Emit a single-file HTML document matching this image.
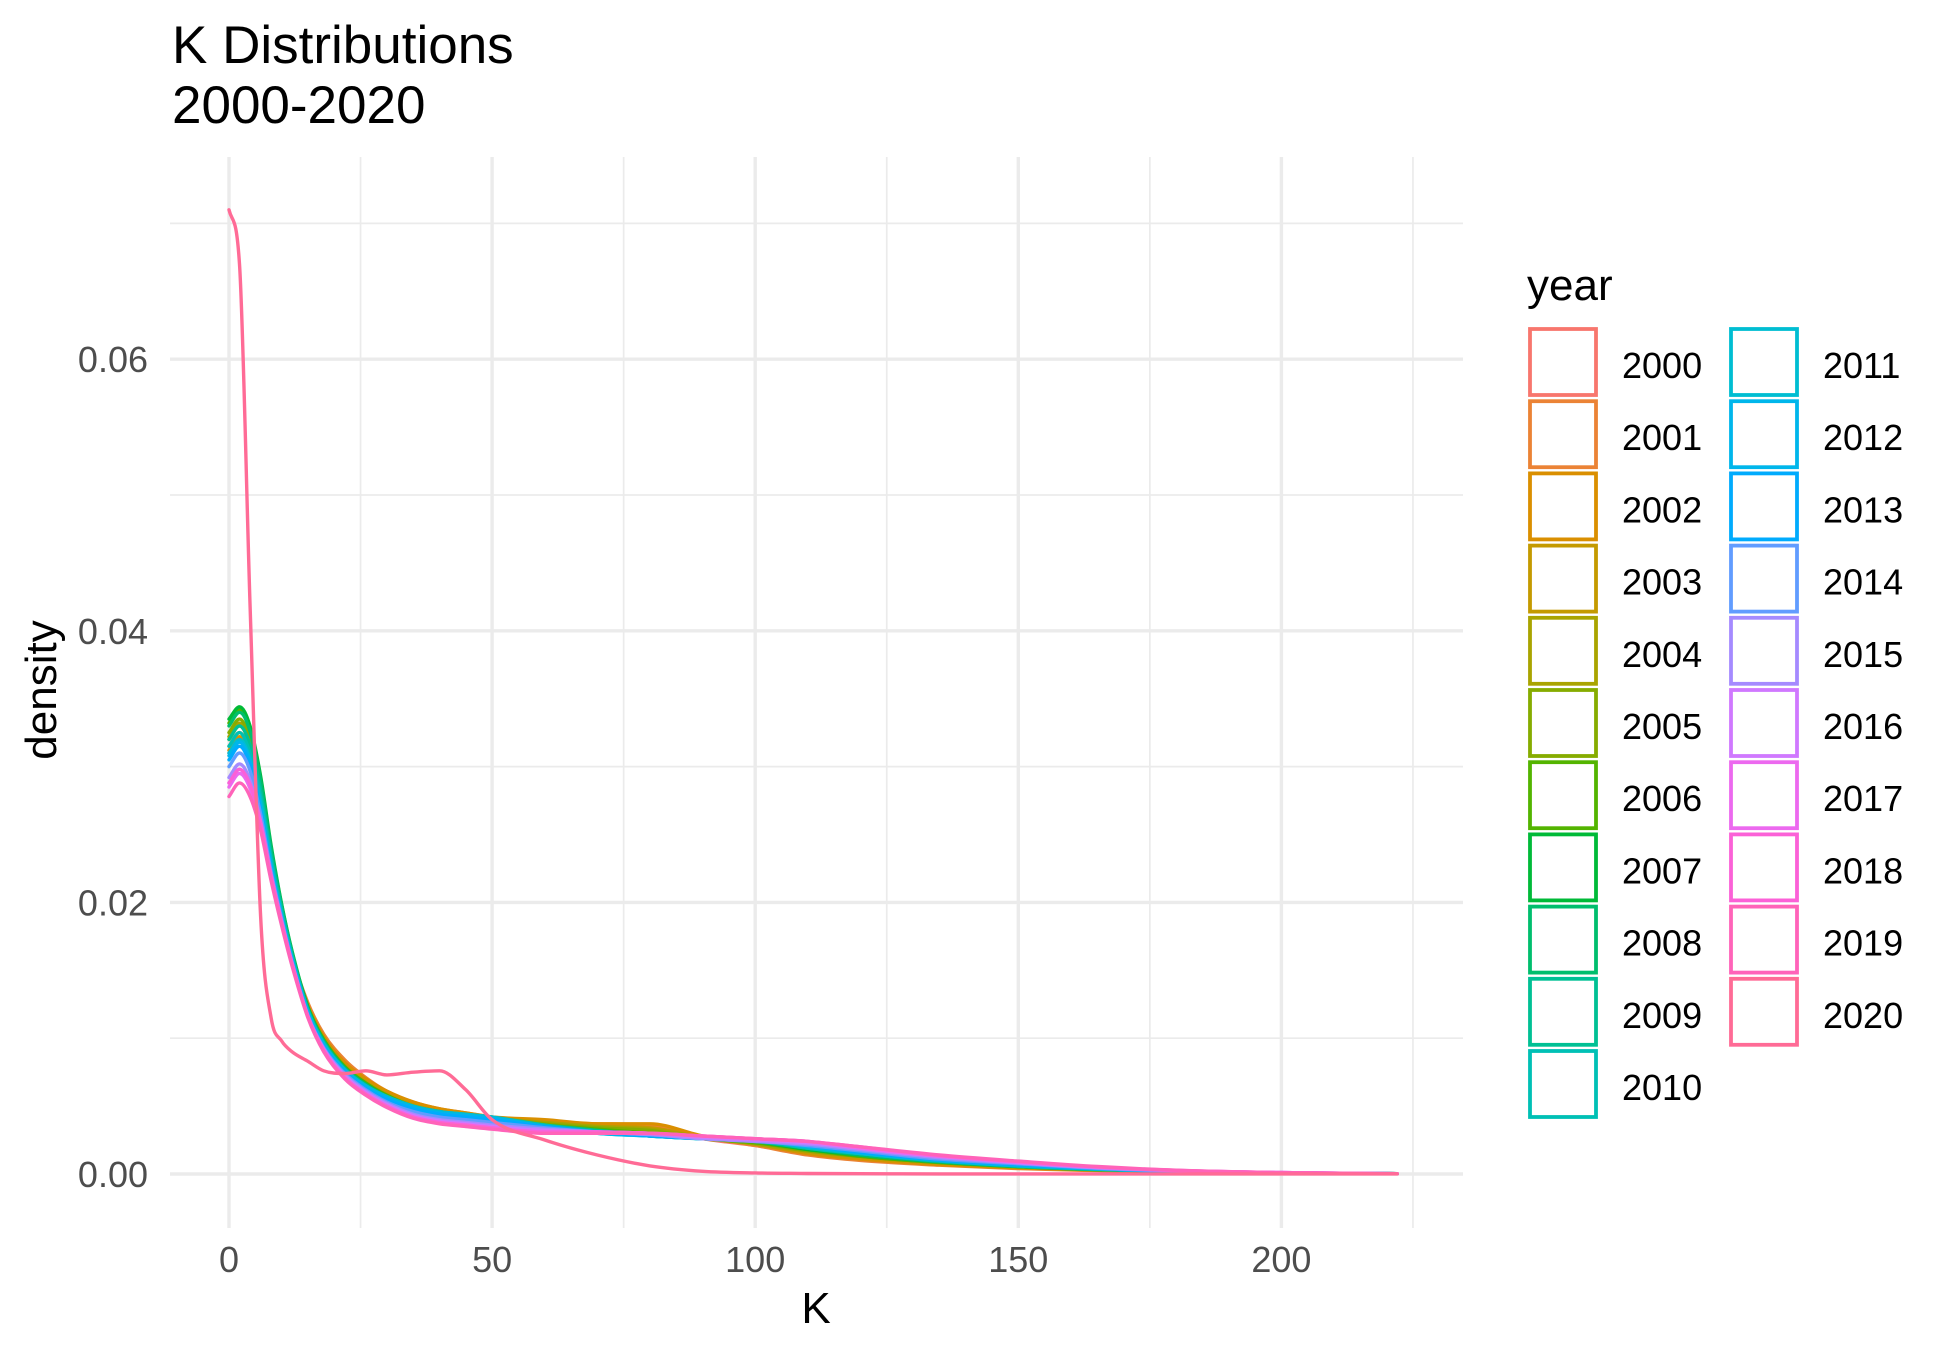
<!DOCTYPE html>
<html><head><meta charset="utf-8">
<style>
html,body{margin:0;padding:0;background:#fff;}
svg{display:block;font-family:"Liberation Sans",Arial,sans-serif;}
</style></head>
<body>
<svg id="chart" width="1953" height="1356" viewBox="0 0 1953 1356" xmlns="http://www.w3.org/2000/svg">
  <rect width="1953" height="1356" fill="#fff"/>
  <g id="grid"></g>
  <g id="series"></g>
  <g id="axes"></g>
  <text x="172" y="63" font-size="53" fill="#000">K Distributions</text>
  <text x="172" y="123" font-size="53" fill="#000">2000-2020</text>
  <text x="816" y="1323" font-size="44" fill="#000" text-anchor="middle">K</text>
  <text x="0" y="0" font-size="44" fill="#000" text-anchor="middle" transform="translate(56,690) rotate(-90)">density</text>
  <g id="legend">
    <text x="1527" y="300" font-size="44" fill="#000">year</text>
  </g>
</svg>
<script>
// ---- data ----
const years = [2000,2001,2002,2003,2004,2005,2006,2007,2008,2009,2010,2011,2012,2013,2014,2015,2016,2017,2018,2019,2020];
const kGrid = [0,2,4,6,8,10,12,15,18,22,26,30,35,40,45,50,60,70,80,90,100,110,120,135,150,165,180,200,222];
// density values in units of 1e-3
const d2000 = [31,32,30.5,27,22.5,18.8,15.7,12.2,10,8.1,6.9,6,5.2,4.7,4.4,4.1,3.8,3.6,3.4,2.6,2.1,1.5,1.1,0.7,0.45,0.3,0.18,0.08,0.02];
const d2001 = [31.5,32.5,31,27.5,23,19.2,16,12.6,10.3,8.4,7.1,6.1,5.3,4.8,4.5,4.2,3.9,3.7,3.6,2.7,2.1,1.4,1.0,0.65,0.4,0.25,0.15,0.07,0.02];
const d2002 = [31.2,32.2,30.8,27.2,22.8,19,15.9,12.4,10.1,8.2,7,6.1,5.3,4.8,4.5,4.2,4.0,3.7,3.7,2.8,2.2,1.5,1.1,0.7,0.45,0.28,0.16,0.07,0.02];
const d2003 = [32,33,31.5,27.8,23,19.2,16,12.3,10,8,6.8,5.9,5.1,4.6,4.3,4.1,3.8,3.5,3.4,2.7,2.2,1.6,1.2,0.8,0.5,0.3,0.18,0.08,0.02];
const d2004 = [32.2,33.2,31.6,28,23.2,19.3,16,12.2,9.9,7.9,6.7,5.8,5,4.6,4.3,4.1,3.8,3.5,3.3,2.7,2.2,1.7,1.3,0.85,0.5,0.3,0.18,0.08,0.02];
const d2005 = [32.5,33.5,32,28.3,23.4,19.4,16.1,12.2,9.9,7.9,6.7,5.8,5,4.6,4.3,4.1,3.7,3.4,3.2,2.6,2.3,1.7,1.3,0.85,0.55,0.32,0.2,0.08,0.02];
const d2006 = [33.2,34.2,32.8,29,24,19.8,16.3,12.3,9.9,7.9,6.7,5.8,5,4.6,4.3,4.1,3.6,3.3,3.0,2.6,2.3,1.8,1.3,0.85,0.55,0.32,0.2,0.08,0.02];
const d2007 = [33.5,34.4,33,29.3,24.2,19.9,16.4,12.3,9.8,7.8,6.6,5.7,4.9,4.5,4.2,4.0,3.5,3.2,2.9,2.6,2.4,1.8,1.4,0.9,0.55,0.33,0.2,0.08,0.02];
const d2008 = [33,34,32.6,29,24,19.8,16.3,12.2,9.8,7.8,6.6,5.7,4.9,4.5,4.2,4.0,3.5,3.2,2.9,2.6,2.4,1.9,1.4,0.9,0.55,0.33,0.2,0.08,0.02];
const d2009 = [32,33,31.6,28.3,23.5,19.5,16.1,12.1,9.7,7.7,6.5,5.6,4.9,4.5,4.3,4.1,3.6,3.2,2.8,2.6,2.4,1.9,1.5,0.95,0.6,0.35,0.2,0.08,0.02];
const d2010 = [31.5,32.5,31,27.8,23.2,19.3,16,12,9.6,7.7,6.5,5.7,5,4.6,4.4,4.2,3.6,3.1,2.8,2.6,2.5,1.9,1.5,0.95,0.6,0.35,0.2,0.08,0.02];
const d2011 = [31,32,30.6,27.4,22.9,19.1,15.9,12,9.6,7.7,6.5,5.7,5,4.6,4.4,4.2,3.5,3.0,2.8,2.6,2.5,2.0,1.5,1.0,0.6,0.35,0.2,0.08,0.02];
const d2012 = [30.8,31.8,30.4,27.1,22.7,19,15.8,11.9,9.5,7.6,6.4,5.6,4.9,4.5,4.3,4.1,3.5,3.0,2.8,2.6,2.5,2.0,1.6,1.0,0.65,0.38,0.2,0.08,0.02];
const d2013 = [30.5,31.5,30.1,26.8,22.5,18.9,15.7,11.8,9.4,7.5,6.3,5.5,4.8,4.4,4.2,4.0,3.5,3.1,2.8,2.6,2.5,2.1,1.6,1.05,0.7,0.4,0.22,0.09,0.02];
const d2014 = [30,31,29.7,26.5,22.3,18.8,15.6,11.7,9.3,7.4,6.2,5.3,4.6,4.2,4.0,3.8,3.4,3.1,2.9,2.6,2.4,2.1,1.7,1.1,0.75,0.42,0.22,0.09,0.02];
const d2015 = [29.2,30.2,29,26,22,18.6,15.5,11.6,9.2,7.3,6.1,5.2,4.4,4.0,3.8,3.6,3.3,3.1,2.9,2.6,2.4,2.2,1.8,1.2,0.8,0.45,0.24,0.1,0.02];
const d2016 = [28.8,29.8,28.6,25.8,21.9,18.5,15.5,11.6,9.2,7.2,6.0,5.1,4.3,3.9,3.7,3.5,3.2,3.1,3.0,2.7,2.5,2.3,1.9,1.3,0.85,0.5,0.25,0.1,0.02];
const d2017 = [28.5,29.5,28.4,25.7,21.8,18.5,15.4,11.6,9.1,7.1,5.9,5.0,4.2,3.8,3.6,3.4,3.1,3.1,3.0,2.8,2.6,2.4,1.9,1.3,0.9,0.5,0.26,0.1,0.02];
const d2018 = [28.8,29.8,28.7,25.9,22,18.6,15.5,11.6,9.1,7.1,5.9,5.0,4.2,3.8,3.6,3.4,3.1,3.1,3.0,2.8,2.6,2.4,2.0,1.35,0.9,0.52,0.27,0.1,0.02];
const d2019 = [27.8,28.8,27.8,25.3,21.6,18.3,15.3,11.5,9.0,7.0,5.8,4.9,4.1,3.7,3.5,3.3,3.0,3.0,3.0,2.8,2.6,2.4,2.0,1.4,0.95,0.55,0.28,0.1,0.02];
const d2020 = [71,67,42,19,11.5,9.8,9,8.3,7.6,7.4,7.6,7.3,7.5,7.6,6.2,4.0,2.5,1.4,0.6,0.2,0.08,0.04,0.02,0.01,0.01,0.01,0.01,0.01,0.01];
const seriesValues = [d2000,d2001,d2002,d2003,d2004,d2005,d2006,d2007,d2008,d2009,d2010,d2011,d2012,d2013,d2014,d2015,d2016,d2017,d2018,d2019,d2020];
const xTicks = [0,50,100,150,200];
const xTickLabels = ["0","50","100","150","200"];
const xMinor = [25,75,125,175,225];
const yTicks = [0,0.02,0.04,0.06];
const yTickLabels = ["0.00","0.02","0.04","0.06"];
const yMinor = [0.01,0.03,0.05,0.07];

// ---- scales ----
const P = {l:170, r:1463, t:157, b:1228};
const xS = k => 229 + k * 5.262;
const yS = d => 1174 - d * 13580;
const NS = "http://www.w3.org/2000/svg";
function mk(tag, attrs, parent){ const e=document.createElementNS(NS,tag); for(const k in attrs) e.setAttribute(k,attrs[k]); parent.appendChild(e); return e; }

function hcl(h){
  const L=65,C=100,hr=h*Math.PI/180;
  const u=C*Math.cos(hr), v=C*Math.sin(hr);
  const Xn=95.047,Yn=100,Zn=108.883;
  const den=Xn+15*Yn+3*Zn, un=4*Xn/den, vn=9*Yn/den;
  const Y=Yn*Math.pow((L+16)/116,3);
  const up=u/(13*L)+un, vp=v/(13*L)+vn;
  const X=Y*9*up/(4*vp), Z=Y*(12-3*up-20*vp)/(4*vp);
  const x=X/100,y=Y/100,z=Z/100;
  let r= 3.2404542*x-1.5371385*y-0.4985314*z;
  let g=-0.9692660*x+1.8760108*y+0.0415560*z;
  let b= 0.0556434*x-0.2040259*y+1.0572252*z;
  const gam=c=>{c=c<=0.0031308?12.92*c:1.055*Math.pow(c,1/2.4)-0.055;return Math.round(Math.max(0,Math.min(1,c))*255);};
  return "rgb("+gam(r)+","+gam(g)+","+gam(b)+")";
}
const n = years.length;
const colors = years.map((y,i)=>hcl(15+360*i/n));

// monotone cubic path
function smoothPath(px, py){
  const m=px.length, d=[], s=[];
  for(let i=0;i<m-1;i++){ d.push(px[i+1]-px[i]); s.push((py[i+1]-py[i])/d[i]); }
  const t=[s[0]];
  for(let i=1;i<m-1;i++){ t.push(s[i-1]*s[i]<=0?0:(s[i-1]+s[i])/2); }
  t.push(s[m-2]);
  for(let i=0;i<m-1;i++){ if(s[i]===0){t[i]=0;t[i+1]=0;continue;} const a=t[i]/s[i], b=t[i+1]/s[i], h=a*a+b*b; if(h>9){const k=3/Math.sqrt(h); t[i]=k*a*s[i]; t[i+1]=k*b*s[i];} }
  let p="M"+px[0].toFixed(1)+","+py[0].toFixed(1);
  for(let i=0;i<m-1;i++){ const h=d[i]/3;
    p+=" C"+(px[i]+h).toFixed(1)+","+(py[i]+t[i]*h).toFixed(1)+" "+(px[i+1]-h).toFixed(1)+","+(py[i+1]-t[i+1]*h).toFixed(1)+" "+px[i+1].toFixed(1)+","+py[i+1].toFixed(1); }
  return p;
}

// ---- grid ----
const grid = document.getElementById('grid');
yMinor.forEach(v=>{ const l=mk('line',{x1:P.l,x2:P.r,y1:yS(v),y2:yS(v),stroke:'#ebebeb','stroke-width':1.7},grid);

 });
xMinor.forEach(v=>{ const l=mk('line',{x1:xS(v),x2:xS(v),y1:P.t,y2:P.b,stroke:'#ebebeb','stroke-width':1.7},grid);

 });
yTicks.forEach(v=>{ const l=mk('line',{x1:P.l,x2:P.r,y1:yS(v),y2:yS(v),stroke:'#ebebeb','stroke-width':3.4},grid);

 });
xTicks.forEach(v=>{ const l=mk('line',{x1:xS(v),x2:xS(v),y1:P.t,y2:P.b,stroke:'#ebebeb','stroke-width':3.4},grid);

 });

// ---- axes labels ----
const axes = document.getElementById('axes');
xTicks.forEach((v,i)=>{ const t=mk('text',{x:xS(v),y:1272,'font-size':36,fill:'#4d4d4d','text-anchor':'middle'},axes); t.textContent=xTickLabels[i];

 });
yTicks.forEach((v,i)=>{ const t=mk('text',{x:148,y:yS(v)+13,'font-size':36,fill:'#4d4d4d','text-anchor':'end'},axes); t.textContent=yTickLabels[i];

 });

// ---- series ----
const sg = document.getElementById('series');
seriesValues.forEach((vals,i)=>{
  const px = kGrid.map(k=>xS(k));
  const py = vals.map(v=>yS(v/1000));
  const p = mk('path',{d:smoothPath(px,py),fill:'none',stroke:colors[i],'stroke-width':3.4,'stroke-linejoin':'round','stroke-linecap':'round'},sg);
  
  
});

// ---- legend ----
const lg = document.getElementById('legend');
years.forEach((y,i)=>{
  const col = i<11?0:1, row = i<11?i:i-11;
  const bx = col===0?1530:1731, by = 329+row*72.2;
  const r = mk('rect',{x:bx,y:by,width:66,height:66,fill:'#fff',stroke:colors[i],'stroke-width':3.8},lg);
  
  
  const t = mk('text',{x:col===0?1622:1823,y:by+49,'font-size':36,fill:'#000'},lg);
  t.textContent = y;
  
  
});
</script>
</body></html>
